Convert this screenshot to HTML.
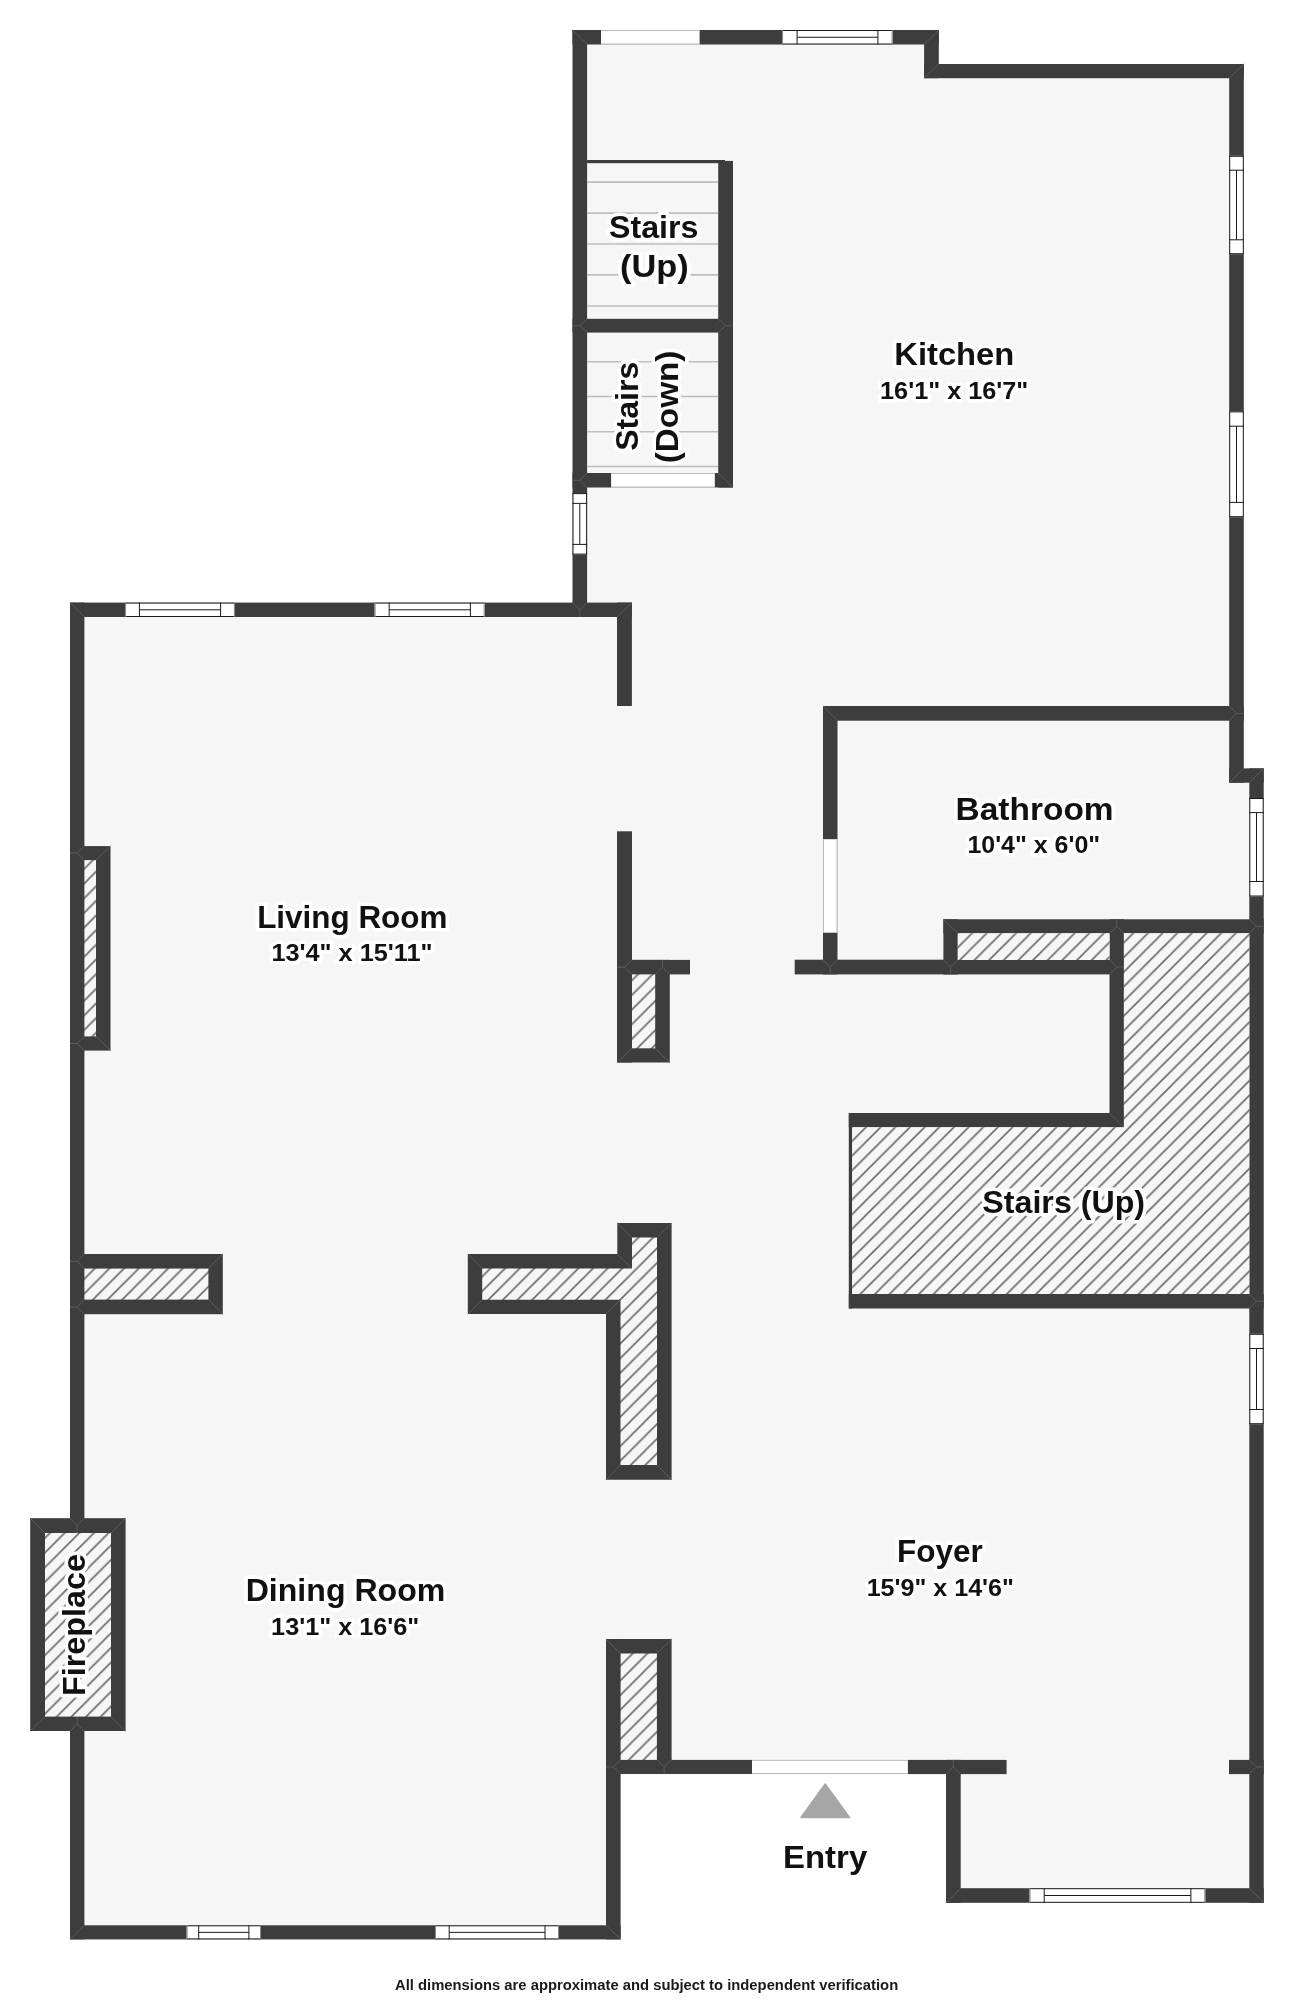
<!DOCTYPE html><html><head><meta charset="utf-8"><style>html,body{margin:0;padding:0;background:#fff;}svg{display:block;will-change:transform;}text{font-family:"Liberation Sans",sans-serif;font-weight:bold;fill:#111;stroke:#fff;stroke-width:7px;stroke-linejoin:round;paint-order:stroke fill;}</style></head><body>
<svg width="1294" height="2000" viewBox="0 0 1294 2000">
<defs><pattern id="hp" patternUnits="userSpaceOnUse" width="14.65" height="14.65" patternTransform="translate(0.8,0)">
<rect width="14.65" height="14.65" fill="#f6f6f6"/>
<path d="M-2,2 L2,-2 M0,14.65 L14.65,0 M12.65,16.65 L16.65,12.65" stroke="#6a6a6a" stroke-width="1.6"/>
</pattern></defs>
<rect width="1294" height="2000" fill="#fff"/>
<polygon points="572.5,30 938.8,30 938.8,64 1243.8,64 1243.8,768.4 1263.7,768.4 1263.7,1902.8 946,1902.8 946,1774 620.6,1774 620.6,1939.4 70,1939.4 70,1731 30.2,1731 30.2,1518.2 70,1518.2 70,602.6 572.5,602.6" fill="#f6f6f6"/>
<rect x="572.5" y="30" width="366.3" height="14.5" fill="#3d3d3d"/>
<rect x="924.1" y="30" width="14.7" height="48.2" fill="#3d3d3d"/>
<rect x="924.1" y="64" width="319.7" height="14.2" fill="#3d3d3d"/>
<rect x="1229.2" y="64" width="14.6" height="718.7" fill="#3d3d3d"/>
<rect x="1229.2" y="768.4" width="34.5" height="14.3" fill="#3d3d3d"/>
<rect x="1249.3" y="768.4" width="14.4" height="1134.4" fill="#3d3d3d"/>
<rect x="572.5" y="30" width="14.6" height="587" fill="#3d3d3d"/>
<rect x="718.2" y="160.9" width="14.8" height="326.6" fill="#3d3d3d"/>
<rect x="587.1" y="160" width="137.9" height="3.2" fill="#3d3d3d"/>
<rect x="572.5" y="318.8" width="160.5" height="13.8" fill="#3d3d3d"/>
<rect x="572.5" y="473" width="160.5" height="14.5" fill="#3d3d3d"/>
<rect x="70" y="602.6" width="561.9" height="14.4" fill="#3d3d3d"/>
<rect x="70" y="602.6" width="14.4" height="1336.8" fill="#3d3d3d"/>
<rect x="617" y="602.6" width="14.9" height="103.4" fill="#3d3d3d"/>
<rect x="617" y="831.3" width="15" height="231.2" fill="#3d3d3d"/>
<rect x="617" y="959.9" width="73" height="14.5" fill="#3d3d3d"/>
<rect x="617" y="959.9" width="52.8" height="102.6" fill="#3d3d3d"/>
<rect x="70" y="846.1" width="40.5" height="204.5" fill="#3d3d3d"/>
<rect x="70" y="1254" width="152.8" height="60.2" fill="#3d3d3d"/>
<rect x="823" y="706" width="420.8" height="14.7" fill="#3d3d3d"/>
<rect x="823" y="706" width="14.5" height="268.4" fill="#3d3d3d"/>
<rect x="794.7" y="959.7" width="329.2" height="14.7" fill="#3d3d3d"/>
<rect x="943.4" y="919.3" width="320.3" height="14" fill="#3d3d3d"/>
<rect x="943.4" y="919.3" width="14.4" height="55.2" fill="#3d3d3d"/>
<rect x="1109.5" y="919.3" width="14.4" height="208" fill="#3d3d3d"/>
<rect x="848.8" y="1113" width="275.1" height="14.3" fill="#3d3d3d"/>
<rect x="848.8" y="1294" width="414.9" height="14.5" fill="#3d3d3d"/>
<rect x="848.8" y="1113" width="3.4" height="195.5" fill="#3d3d3d"/>
<rect x="30.2" y="1518.2" width="95.4" height="212.8" fill="#3d3d3d"/>
<rect x="606" y="1639" width="65.6" height="135" fill="#3d3d3d"/>
<rect x="606" y="1639" width="14.6" height="300.4" fill="#3d3d3d"/>
<rect x="70" y="1925.3" width="550.6" height="14.1" fill="#3d3d3d"/>
<rect x="606" y="1759.9" width="146" height="14.1" fill="#3d3d3d"/>
<rect x="907.7" y="1759.9" width="98.9" height="14.2" fill="#3d3d3d"/>
<rect x="946" y="1759.9" width="14.7" height="142.9" fill="#3d3d3d"/>
<rect x="946" y="1888.2" width="317.7" height="14.6" fill="#3d3d3d"/>
<rect x="1229" y="1759.9" width="34.7" height="14.2" fill="#3d3d3d"/>
<polygon points="467.8,1254.1 617.3,1254.1 617.3,1223 671.6,1223 671.6,1479.8 606,1479.8 606,1314.1 467.8,1314.1" fill="#3d3d3d"/>
<path d="M572.5,30L587.1,44.5M938.8,30L924.1,44.5M924.1,78.2L938.8,64M1243.8,64L1229.2,78.2M1229.2,782.7L1243.8,768.4M1263.7,768.4L1249.3,782.7M733,487.5L718.2,473M70,602.6L84.4,617M631.9,602.6L617,617M110.5,846.1L96,860.1M110.5,1050.6L96,1036.4M222.8,1254L208.4,1268.6M222.8,1314.2L208.4,1299.6M617,1062.5L632,1048.3M669.8,1062.5L655.2,1048.3M467.8,1254.1L482.2,1268.4M467.8,1314.1L482.2,1299.8M617.3,1254.1L632,1268.4M617.3,1223L632,1237.6M671.6,1223L657,1237.6M671.6,1479.8L657,1465.1M606,1479.8L620.5,1465.1M606,1314.1L620.5,1299.8M823,706L837.5,720.7M943.4,919.3L957.8,933.3M1123.9,1127.3L1109.5,1113M30.2,1518.2L45,1533M125.6,1518.2L111,1533M30.2,1731L45,1716.6M125.6,1731L111,1716.6M606,1639L620.6,1653.5M671.6,1639L656.9,1653.5M70,1939.4L84.4,1925.3M620.6,1939.4L606,1925.3M946,1902.8L960.7,1888.2M1263.7,1902.8L1249.3,1888.2M1229.2,706L1236.5,713.35M1229.2,720.7L1236.5,713.35M1236.5,713.35L1243.8,713.35M587.1,318.8L579.8,325.7M587.1,332.6L579.8,325.7M579.8,325.7L572.5,325.7M718.2,318.8L725.6,325.7M718.2,332.6L725.6,325.7M725.6,325.7L733,325.7M587.1,473L579.8,480.25M587.1,487.5L579.8,480.25M579.8,480.25L572.5,480.25M572.5,602.6L579.8,609.8M587.1,602.6L579.8,609.8M579.8,609.8L579.8,617M84.4,846.1L77.2,853.1M84.4,860.1L77.2,853.1M77.2,853.1L70,853.1M84.4,1036.4L77.2,1043.5M84.4,1050.6L77.2,1043.5M77.2,1043.5L70,1043.5M84.4,1254L77.2,1261.3M84.4,1268.6L77.2,1261.3M77.2,1261.3L70,1261.3M84.4,1299.6L77.2,1306.9M84.4,1314.2L77.2,1306.9M77.2,1306.9L70,1306.9M632,959.9L624.5,967.2M632,974.4L624.5,967.2M624.5,967.2L617,967.2M655.2,974.4L662.5,967.2M669.8,974.4L662.5,967.2M662.5,967.2L662.5,959.9M823,959.7L830.25,967M837.5,959.7L830.25,967M830.25,967L830.25,974.4M943.4,959.7L950.6,967M957.8,959.7L950.6,967M950.6,967L950.6,974.4M1109.5,933.3L1116.7,926.3M1123.9,933.3L1116.7,926.3M1116.7,926.3L1116.7,919.3M1109.5,959.7L1116.7,967M1109.5,974.4L1116.7,967M1116.7,967L1123.9,967M1249.3,919.3L1256.5,926.3M1249.3,933.3L1256.5,926.3M1256.5,926.3L1263.7,926.3M1249.3,1294L1256.5,1301.2M1249.3,1308.5L1256.5,1301.2M1256.5,1301.2L1263.7,1301.2M70,1518.2L77.2,1525.6M84.4,1518.2L77.2,1525.6M77.2,1525.6L77.2,1533M70,1731L77.2,1723.8M84.4,1731L77.2,1723.8M77.2,1723.8L77.2,1716.6M620.6,1759.9L613.3,1767M620.6,1774L613.3,1767M613.3,1767L606,1767M656.9,1759.9L664.2,1767M671.6,1759.9L664.2,1767M664.2,1767L664.2,1774M946,1774L953.3,1767M960.7,1774L953.3,1767M953.3,1767L953.3,1759.9M1249.3,1759.9L1256.5,1767M1249.3,1774.1L1256.5,1767M1256.5,1767L1263.7,1767" stroke="#5e5e5e" stroke-width="0.9" fill="none"/>
<rect x="632" y="974.4" width="23.2" height="73.9" fill="url(#hp)"/>
<rect x="84.4" y="860.1" width="11.6" height="176.3" fill="url(#hp)"/>
<rect x="84.4" y="1268.6" width="124" height="31" fill="url(#hp)"/>
<rect x="957.8" y="933.3" width="151.7" height="26.7" fill="url(#hp)"/>
<polygon points="1123.9,933.3 1249.3,933.3 1249.3,1294 852.2,1294 852.2,1127.3 1123.9,1127.3" fill="url(#hp)"/>
<rect x="45" y="1533" width="66" height="183.6" fill="url(#hp)"/>
<rect x="620.6" y="1653.5" width="36.3" height="106.4" fill="url(#hp)"/>
<polygon points="482.2,1268.4 632,1268.4 632,1237.6 657,1237.6 657,1465.1 620.5,1465.1 620.5,1299.8 482.2,1299.8" fill="url(#hp)"/>
<line x1="587.1" y1="182.1" x2="718.2" y2="182.1" stroke="#bdbdbd" stroke-width="1.6"/>
<line x1="587.1" y1="213.1" x2="718.2" y2="213.1" stroke="#bdbdbd" stroke-width="1.6"/>
<line x1="587.1" y1="244" x2="718.2" y2="244" stroke="#bdbdbd" stroke-width="1.6"/>
<line x1="587.1" y1="274.9" x2="718.2" y2="274.9" stroke="#bdbdbd" stroke-width="1.6"/>
<line x1="587.1" y1="306" x2="718.2" y2="306" stroke="#bdbdbd" stroke-width="1.6"/>
<line x1="587.1" y1="361.8" x2="718.2" y2="361.8" stroke="#bdbdbd" stroke-width="1.6"/>
<line x1="587.1" y1="396.5" x2="718.2" y2="396.5" stroke="#bdbdbd" stroke-width="1.6"/>
<line x1="587.1" y1="431.7" x2="718.2" y2="431.7" stroke="#bdbdbd" stroke-width="1.6"/>
<line x1="587.1" y1="466.5" x2="718.2" y2="466.5" stroke="#bdbdbd" stroke-width="1.6"/>
<rect x="782.1" y="30" width="110.5" height="14.5" fill="#fff"/>
<path d="M782.1,30.5H892.6M782.1,44H892.6M797.1,37.25H877.9M797.1,30V44.5M877.9,30V44.5" stroke="#1a1a1a" stroke-width="1" fill="none"/>
<path d="M782.6,30V44.5M892.1,30V44.5" stroke="#888" stroke-width="1" fill="none"/>
<rect x="1229.2" y="155.8" width="14.6" height="98.4" fill="#fff"/>
<path d="M1229.7,155.8V254.2M1243.3,155.8V254.2M1236.5,170.2V239.8M1229.2,170.2H1243.8M1229.2,239.8H1243.8" stroke="#1a1a1a" stroke-width="1" fill="none"/>
<path d="M1229.2,156.3H1243.8M1229.2,253.7H1243.8" stroke="#1a1a1a" stroke-width="1" fill="none"/>
<rect x="1229.2" y="411.4" width="14.6" height="105.8" fill="#fff"/>
<path d="M1229.7,411.4V517.2M1243.3,411.4V517.2M1236.5,426.2V502.4M1229.2,426.2H1243.8M1229.2,502.4H1243.8" stroke="#1a1a1a" stroke-width="1" fill="none"/>
<path d="M1229.2,411.9H1243.8M1229.2,516.7H1243.8" stroke="#1a1a1a" stroke-width="1" fill="none"/>
<rect x="1249.3" y="798" width="14.4" height="98.5" fill="#fff"/>
<path d="M1249.8,798V896.5M1263.2,798V896.5M1256.5,812.6V881.5M1249.3,812.6H1263.7M1249.3,881.5H1263.7" stroke="#1a1a1a" stroke-width="1" fill="none"/>
<path d="M1249.3,798.5H1263.7M1249.3,896H1263.7" stroke="#1a1a1a" stroke-width="1" fill="none"/>
<rect x="1249.3" y="1333.8" width="14.4" height="90.4" fill="#fff"/>
<path d="M1249.8,1333.8V1424.2M1263.2,1333.8V1424.2M1256.5,1348.5V1409.5M1249.3,1348.5H1263.7M1249.3,1409.5H1263.7" stroke="#1a1a1a" stroke-width="1" fill="none"/>
<path d="M1249.3,1334.3H1263.7M1249.3,1423.7H1263.7" stroke="#1a1a1a" stroke-width="1" fill="none"/>
<rect x="572.5" y="493.1" width="14.6" height="61.5" fill="#fff"/>
<path d="M573,493.1V554.6M586.6,493.1V554.6M579.8,503.4V544.4M572.5,503.4H587.1M572.5,544.4H587.1" stroke="#1a1a1a" stroke-width="1" fill="none"/>
<path d="M572.5,493.6H587.1M572.5,554.1H587.1" stroke="#1a1a1a" stroke-width="1" fill="none"/>
<rect x="125.1" y="602.6" width="109.8" height="14.4" fill="#fff"/>
<path d="M125.1,603.1H234.9M125.1,616.5H234.9M139.4,609.8H220.6M139.4,602.6V617M220.6,602.6V617" stroke="#1a1a1a" stroke-width="1" fill="none"/>
<path d="M125.6,602.6V617M234.4,602.6V617" stroke="#888" stroke-width="1" fill="none"/>
<rect x="374.6" y="602.6" width="110.1" height="14.4" fill="#fff"/>
<path d="M374.6,603.1H484.7M374.6,616.5H484.7M389.2,609.8H470.4M389.2,602.6V617M470.4,602.6V617" stroke="#1a1a1a" stroke-width="1" fill="none"/>
<path d="M375.1,602.6V617M484.2,602.6V617" stroke="#888" stroke-width="1" fill="none"/>
<rect x="186.6" y="1925.3" width="74.4" height="14.1" fill="#fff"/>
<path d="M186.6,1925.8H261M186.6,1938.9H261M198.7,1932.35H248.9M198.7,1925.3V1939.4M248.9,1925.3V1939.4" stroke="#1a1a1a" stroke-width="1" fill="none"/>
<path d="M187.1,1925.3V1939.4M260.5,1925.3V1939.4" stroke="#888" stroke-width="1" fill="none"/>
<rect x="435" y="1925.3" width="124" height="14.1" fill="#fff"/>
<path d="M435,1925.8H559M435,1938.9H559M449.2,1932.35H545M449.2,1925.3V1939.4M545,1925.3V1939.4" stroke="#1a1a1a" stroke-width="1" fill="none"/>
<path d="M435.5,1925.3V1939.4M558.5,1925.3V1939.4" stroke="#888" stroke-width="1" fill="none"/>
<rect x="1029.5" y="1888.2" width="175.8" height="14.6" fill="#fff"/>
<path d="M1029.5,1888.7H1205.3M1029.5,1902.3H1205.3M1044.2,1895.5H1190.9M1044.2,1888.2V1902.8M1190.9,1888.2V1902.8" stroke="#1a1a1a" stroke-width="1" fill="none"/>
<path d="M1030,1888.2V1902.8M1204.8,1888.2V1902.8" stroke="#888" stroke-width="1" fill="none"/>
<rect x="601" y="30" width="98.6" height="14.5" fill="#fff"/>
<path d="M601,30.5H699.6M601,44H699.6" stroke="#bbb" stroke-width="1" fill="none"/>
<rect x="611.1" y="473" width="103.7" height="14.5" fill="#fff"/>
<path d="M611.1,473.5H714.8M611.1,487H714.8" stroke="#bbb" stroke-width="1" fill="none"/>
<rect x="823" y="839.2" width="14.5" height="93.5" fill="#fff"/>
<path d="M823.5,839.2V932.7M837,839.2V932.7" stroke="#bbb" stroke-width="1" fill="none"/>
<rect x="752" y="1759.9" width="155.7" height="14.1" fill="#fff"/>
<path d="M752,1760.4H907.7M752,1773.5H907.7" stroke="#bbb" stroke-width="1" fill="none"/>
<polygon points="825.2,1784 801,1817.5 849.5,1817.5" fill="#a6a6a6" stroke="#a6a6a6" stroke-width="1.5" stroke-linejoin="round"/>
<text x="608.95" y="238" font-size="30.5" textLength="89.5" lengthAdjust="spacingAndGlyphs">Stairs</text>
<text x="619.95" y="277.4" font-size="30.5" textLength="68.7" lengthAdjust="spacingAndGlyphs">(Up)</text>
<text x="894.3" y="364.8" font-size="30.5" textLength="120" lengthAdjust="spacingAndGlyphs">Kitchen</text>
<text x="880.05" y="398.9" font-size="24" textLength="148.3" lengthAdjust="spacingAndGlyphs">16'1&quot; x 16'7&quot;</text>
<text x="955.6" y="819.6" font-size="30.5" textLength="158" lengthAdjust="spacingAndGlyphs">Bathroom</text>
<text x="967.4" y="853" font-size="24" textLength="132.8" lengthAdjust="spacingAndGlyphs">10'4&quot; x 6'0&quot;</text>
<text x="257.15" y="927.6" font-size="30.5" textLength="190.3" lengthAdjust="spacingAndGlyphs">Living Room</text>
<text x="271.4" y="961.4" font-size="24" textLength="161.2" lengthAdjust="spacingAndGlyphs">13'4&quot; x 15'11&quot;</text>
<text x="982.3" y="1212.6" font-size="30.5" textLength="162.8" lengthAdjust="spacingAndGlyphs">Stairs (Up)</text>
<text x="896.95" y="1561.7" font-size="30.5" textLength="85.7" lengthAdjust="spacingAndGlyphs">Foyer</text>
<text x="866.65" y="1595.8" font-size="24" textLength="147.3" lengthAdjust="spacingAndGlyphs">15'9&quot; x 14'6&quot;</text>
<text x="245.7" y="1600.6" font-size="30.5" textLength="199.6" lengthAdjust="spacingAndGlyphs">Dining Room</text>
<text x="271.1" y="1634.7" font-size="24" textLength="148.2" lengthAdjust="spacingAndGlyphs">13'1&quot; x 16'6&quot;</text>
<text x="783" y="1868.2" font-size="30.5" textLength="84.2" lengthAdjust="spacingAndGlyphs">Entry</text>
<text transform="translate(638.3,450.8) rotate(-90)" x="0" y="0" font-size="30.5" textLength="89" lengthAdjust="spacingAndGlyphs">Stairs</text>
<text transform="translate(678.4,463.2) rotate(-90)" x="0" y="0" font-size="30.5" textLength="112.6" lengthAdjust="spacingAndGlyphs">(Down)</text>
<text transform="translate(85.4,1696) rotate(-90)" x="0" y="0" font-size="30.5" textLength="142" lengthAdjust="spacingAndGlyphs">Fireplace</text>
<text x="395" y="1990.1" font-size="14" textLength="503.2" lengthAdjust="spacingAndGlyphs" style="stroke:none;fill:#1a1a1a">All dimensions are approximate and subject to independent verification</text>
</svg></body></html>
